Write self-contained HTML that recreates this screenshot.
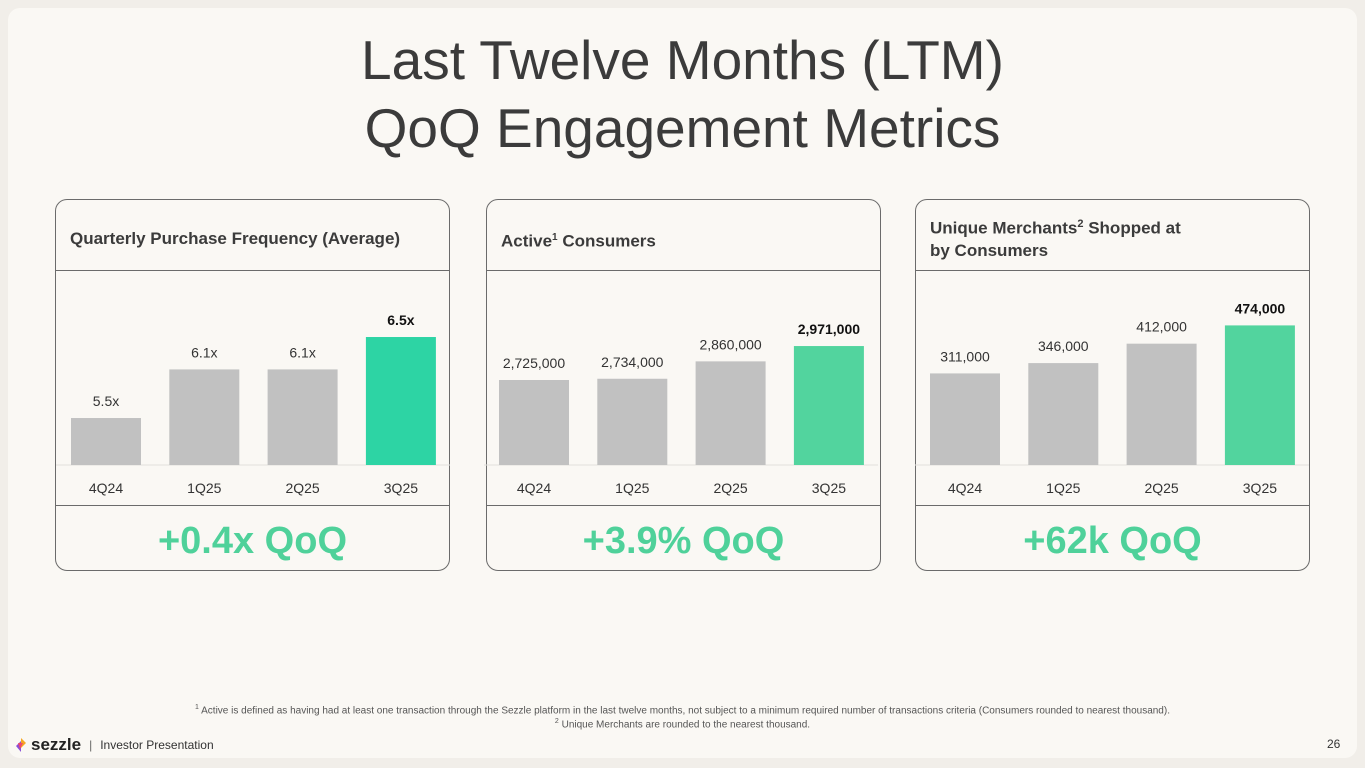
<!DOCTYPE html>
<html><head><meta charset="utf-8">
<style>
body{margin:0;width:1365px;height:768px;background:#f1eee9;font-family:"Liberation Sans",sans-serif;overflow:hidden;position:relative}
.slide{position:absolute;left:8px;top:8px;width:1349px;height:750px;background:#faf8f4;border-radius:12px}
.title{position:absolute;left:0;width:1365px;text-align:center;font-size:55px;color:#3b3b3b;line-height:68px;top:26px}
.panel{position:absolute;top:199px;width:395px;height:372px;border:1px solid #6b6b6b;border-radius:12px;box-sizing:border-box}
.ph{position:absolute;left:0;top:0;right:0;height:70px;border-bottom:1px solid #6b6b6b}
.ph span{position:absolute;left:14px;font-size:17px;font-weight:bold;color:#3b3b3b;line-height:22px}
.pf{position:absolute;left:0;right:0;top:305px;bottom:0;border-top:1px solid #6b6b6b;text-align:center;font-size:38px;font-weight:bold;color:#4fd19a;line-height:70px}
svg{position:absolute;left:0;top:0}
.foot{position:absolute;left:0;width:1365px;text-align:center;font-size:10px;color:#555}
</style></head><body>
<div class="slide"></div>
<div class="title">Last Twelve Months (LTM)<br>QoQ Engagement Metrics</div>

<div class="panel" style="left:55px">
 <div class="ph"><span style="top:28px">Quarterly Purchase Frequency (Average)</span></div>
 <div class="pf">+0.4x QoQ</div>
</div>
<div class="panel" style="left:486px">
 <div class="ph"><span style="top:27px">Active<sup style="font-size:10px">1</sup> Consumers</span></div>
 <div class="pf">+3.9% QoQ</div>
</div>
<div class="panel" style="left:915px">
 <div class="ph"><span style="top:13px">Unique Merchants<sup style="font-size:11px">2</sup> Shopped at<br>by Consumers</span></div>
 <div class="pf">+62k QoQ</div>
</div>

<svg id="charts" width="1365" height="768"></svg>

<div class="foot" style="top:704px"><sup style="font-size:7px">1</sup> Active is defined as having had at least one transaction through the Sezzle platform in the last twelve months, not subject to a minimum required number of transactions criteria (Consumers rounded to nearest thousand).</div>
<div class="foot" style="top:718px"><sup style="font-size:7px">2</sup> Unique Merchants are rounded to the nearest thousand.</div>
<div style="position:absolute;left:14px;top:735px;font-size:12px;color:#333;display:flex;align-items:center">
 <svg width="14" height="16" style="position:static"><path d="M7 1 L12 6 L7 11 Z" fill="#f5a623"/><path d="M7 4 L2 9 L7 15 Z" fill="#8a4fd8"/><path d="M4 6 L9 6 L6 12 Z" fill="#ee4a6a"/></svg>
 <b style="font-size:17px;margin-left:3px;color:#222">sezzle</b><span style="margin:0 8px;color:#666">|</span>Investor Presentation</div>
<div style="position:absolute;left:1327px;top:737px;font-size:12px;color:#333">26</div>

<script>
const categories = ["4Q24","1Q25","2Q25","3Q25"];
const freqValues = [5.5, 6.1, 6.1, 6.5];
const freqLabels = ["5.5x","6.1x","6.1x","6.5x"];
const consumerValues = [2725000, 2734000, 2860000, 2971000];
const consumerLabels = ["2,725,000","2,734,000","2,860,000","2,971,000"];
const merchantValues = [311000, 346000, 412000, 474000];
const merchantLabels = ["311,000","346,000","412,000","474,000"];

const svg = document.getElementById('charts');
const NS = 'http://www.w3.org/2000/svg';
const baseY = 465;
function mk(tag, attrs){const e=document.createElementNS(NS,tag);for(const k in attrs)e.setAttribute(k,attrs[k]);svg.appendChild(e);return e;}
function chart(x0, values, labels, yScale, green){
  mk('line',{x1:x0-15,x2:x0+379,y1:baseY,y2:baseY,stroke:'#e2e0dc','stroke-width':1});
  values.forEach((v,i)=>{
    const x = x0 + i*98.3, h = yScale(v), last = i===values.length-1;
    const r = mk('rect',{x:x,y:baseY-h,width:70,height:h,fill:last?green:'#c1c1c1'});
    
    
    const t = mk('text',{x:x+35,y:baseY-h-12,'text-anchor':'middle','font-size':14,fill:last?'#111':'#333','font-weight':last?'bold':'normal','font-family':'Liberation Sans, sans-serif'});
    t.textContent = labels[i];
    
    
    const c = mk('text',{x:x+35,y:493,'text-anchor':'middle','font-size':14,fill:'#333','font-family':'Liberation Sans, sans-serif'});
    c.textContent = categories[i];
    
    
  });
}
chart(71, freqValues, freqLabels, v => 81*(v-4.92), '#2dd4a4');
chart(499, consumerValues, consumerLabels, v => 0.138*(v-2109000)/1000, '#52d49e');
chart(930, merchantValues, merchantLabels, v => 0.2945*v/1000, '#52d49e');
</script>
</body></html>
